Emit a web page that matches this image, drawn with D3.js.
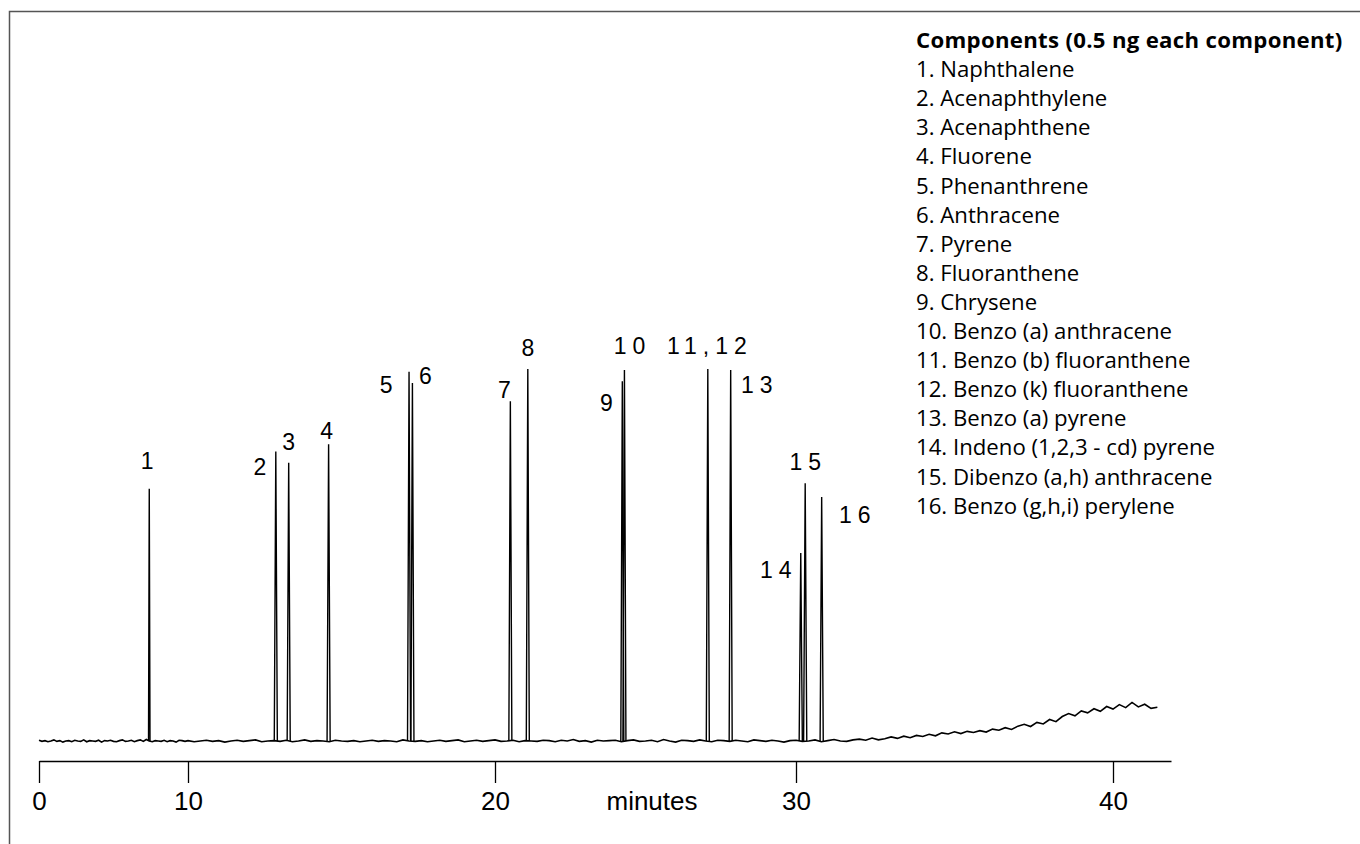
<!DOCTYPE html>
<html>
<head>
<meta charset="utf-8">
<script src="https://cdn.jsdelivr.net/npm/d3@7"></script>
<style>
  body { margin: 0; background: #fff; }
  svg { display: block; }
</style>
</head>
<body>
<div id="vis"></div>
<script>
// Constants for the frame dimensions
const FRAME_WIDTH = 1360;
const FRAME_HEIGHT = 844;

// Retention time (minutes) of each labelled peak
const peakTimes = [7.40, 12.86, 13.28, 14.58, 17.20, 17.31, 20.51, 21.09,
                   24.23, 24.30, 27.07, 27.83, 30.15, 30.29, 30.81];
// Peak height (relative detector response)
const peakHeights = [68, 78, 75, 80, 99.5, 96.5, 91.6, 100.3,
                     97, 100, 100.3, 100, 50.7, 69.5, 65.8];
// Peak labels (component numbers)
const peakLabels = ["1", "2", "3", "4", "5", "6", "7", "8",
                    "9", "10", "11,12", "13", "14", "15", "16"];

// Baseline signal, one value every 0.2 min from 0 to 41.4 min
const baseline = [
   0.2, -0.1,  0.1, -0.2,  0.0,  0.3, -0.1,  0.1, -0.3,  0.0,
   0.1, -0.2,  0.2,  0.0, -0.1,  0.3, -0.2,  0.1,  0.0, -0.1,
   0.2, -0.3,  0.1,  0.0,  0.2, -0.1, -0.2,  0.1,  0.3, -0.1,
   0.0,  0.2, -0.2,  0.1,  0.3, -0.1,  0.4,  0.0, -0.2,  0.1,
   0.0, -0.1,  0.2, -0.2,  0.1,  0.0, -0.3,  0.2,  0.1, -0.1,
   0.1, -0.2,  0.0,  0.2, -0.1,  0.1, -0.3,  0.0,  0.2, -0.1,
   0.1,  0.3, -0.2,  0.0,  0.1, -0.1,  0.2, -0.2,  0.0,  0.3,
  -0.1,  0.1,  0.0, -0.2,  0.2,  0.0, -0.1,  0.1, -0.2,  0.0,
   0.2, -0.1,  0.1,  0.0, -0.2,  0.3,  0.0, -0.1,  0.1, -0.2,
   0.0,  0.2, -0.1,  0.1,  0.3, -0.2,  0.0,  0.2, -0.1,  0.1,
   0.3, -0.1,  0.0,  0.2, -0.2,  0.1,  0.0, -0.1,  0.2,  0.1,
  -0.2,  0.2,  0.0,  0.4, -0.1,  0.1, -0.3,  0.2,  0.0,  0.1,
   0.2, -0.2,  0.1,  0.3, -0.1,  0.0,  0.2, -0.2,  0.4,  0.0,
  -0.3,  0.2,  0.1, -0.1,  0.3,  0.0, -0.2,  0.2,  0.1, -0.1,
   0.2,  0.0, -0.2,  0.3,  0.1, -0.1,  0.2,  0.0, -0.3,  0.1,
   0.2, -0.1,  0.0,  0.3, -0.2,  0.1,  0.4,  0.0, -0.1,  0.3,
   0.5,  0.2,  0.8,  0.3,  0.6,  1.1,  0.7,  1.3,  0.9,  1.5,
   1.2,  1.8,  1.4,  2.2,  1.9,  2.5,  2.0,  2.6,  2.3,  2.8,
   2.4,  3.2,  2.9,  3.6,  3.1,  4.0,  4.5,  3.9,  5.0,  4.6,
   5.8,  5.2,  6.6,  7.4,  6.8,  8.1,  7.6,  8.7,  8.0,  9.3,
   8.6,  9.8,  9.0, 10.4,  9.2,  9.9,  8.8,  9.1
];

// Axis ticks and title
const xTicks = [0, 10, 20, 30, 40];
const xTitle = "minutes";

// Legend text
const legendTitle = "Components (0.5 ng each component)";
const components = [
  "1. Naphthalene", "2. Acenaphthylene", "3. Acenaphthene", "4. Fluorene",
  "5. Phenanthrene", "6. Anthracene", "7. Pyrene", "8. Fluoranthene",
  "9. Chrysene", "10. Benzo (a) anthracene", "11. Benzo (b) fluoranthene",
  "12. Benzo (k) fluoranthene", "13. Benzo (a) pyrene",
  "14. Indeno (1,2,3 - cd) pyrene", "15. Dibenzo (a,h) anthracene",
  "16. Benzo (g,h,i) perylene"
];

// Where each peak label sits relative to its peak apex (pixels)
const LABEL_OFFSETS = [[-2, -28], [-16, 15], [0, -21], [-2, -13], [-23, 13], [13, -7],
                       [-6, -11], [0, -21], [-16, 22], [5, -24], [-1, -23], [26, 15],
                       [-25, 17], [0, -21], [33, 18]];

const svg = d3.select("#vis")
  .append("svg")
    .attr("width", FRAME_WIDTH)
    .attr("height", FRAME_HEIGHT);

// Gray frame on the top and left edges
svg.append("path")
  .attr("d", "M9.5," + FRAME_HEIGHT + "V11.5H" + FRAME_WIDTH)
  .attr("fill", "none")
  .attr("stroke", "#555")
  .attr("stroke-width", 1.5);

// The time axis of the scan is not uniform, so use a piecewise scale
const X_SCALE = d3.scaleLinear()
  .domain([0, 10, 20, 30, 40, 41.83])
  .range([39, 188, 495, 796, 1113, 1171]);

const Y_SCALE = d3.scaleLinear()
  .domain([0, 100])
  .range([741, 370]);

// Baseline trace
const baseTimes = d3.range(baseline.length).map(i => i * 0.2);
const line = d3.line()
  .x(d => X_SCALE(d[0]))
  .y(d => Y_SCALE(d[1]));

svg.append("path")
  .datum(baseTimes.map((t, i) => [t, baseline[i]]))
  .attr("d", line)
  .attr("fill", "none")
  .attr("stroke", "#000")
  .attr("stroke-width", 1.6);

// Narrow peaks drawn on top of the baseline
const HALF_WIDTH = 0.05;
svg.selectAll(".peak")
  .data(peakTimes)
  .enter()
  .append("path")
    .attr("class", "peak")
    .attr("d", (t, i) => line([[t - HALF_WIDTH, 0], [t, peakHeights[i]], [t + HALF_WIDTH, 0]]))
    .attr("fill", "none")
    .attr("stroke", "#000")
    .attr("stroke-width", 1.4);

// Peak labels
svg.selectAll(".plabel")
  .data(peakLabels)
  .enter()
  .append("text")
    .attr("class", "plabel")
    .attr("x", (d, i) => X_SCALE(peakTimes[i]) + LABEL_OFFSETS[i][0] + (d.length > 1 ? 3 : 0))
    .attr("y", (d, i) => Y_SCALE(peakHeights[i]) + LABEL_OFFSETS[i][1])
    .attr("dy", "0.36em")
    .attr("text-anchor", "middle")
    .attr("font-family", "'Liberation Sans', Arial, sans-serif")
    .attr("font-size", 23)
    .attr("letter-spacing", d => d.length > 1 ? 6 : 0)
    .attr("fill", "#000")
    .text(d => d);

// x axis
const xAxis = svg.append("g")
  .attr("transform", "translate(0,761)")
  .call(d3.axisBottom(X_SCALE).tickValues(xTicks).tickSize(22).tickSizeOuter(0).tickPadding(9));
xAxis.select(".domain").attr("stroke-width", 1.3);
xAxis.selectAll(".tick line").attr("stroke-width", 1.3);
xAxis.selectAll("text")
  .attr("font-family", "'Liberation Sans', Arial, sans-serif")
  .attr("font-size", 26)
  .attr("fill", "#000");

svg.append("text")
  .attr("x", 652)
  .attr("y", 810)
  .attr("text-anchor", "middle")
  .attr("font-family", "'Liberation Sans', Arial, sans-serif")
  .attr("font-size", 26)
  .text(xTitle);

// Legend with component names
const legend = svg.append("g")
  .attr("transform", "translate(916,48)")
  .attr("font-family", "'Open Sans', 'Noto Sans', sans-serif")
  .attr("font-size", 22.2);

legend.append("text")
  .attr("font-weight", "bold")
  .attr("letter-spacing", 0.3)
  .text(legendTitle);

legend.selectAll(".item")
  .data(components)
  .enter()
  .append("text")
    .attr("class", "item")
    .attr("y", (d, i) => (i + 1) * 29.1)
    .text(d => d);
</script>
</body>
</html>
